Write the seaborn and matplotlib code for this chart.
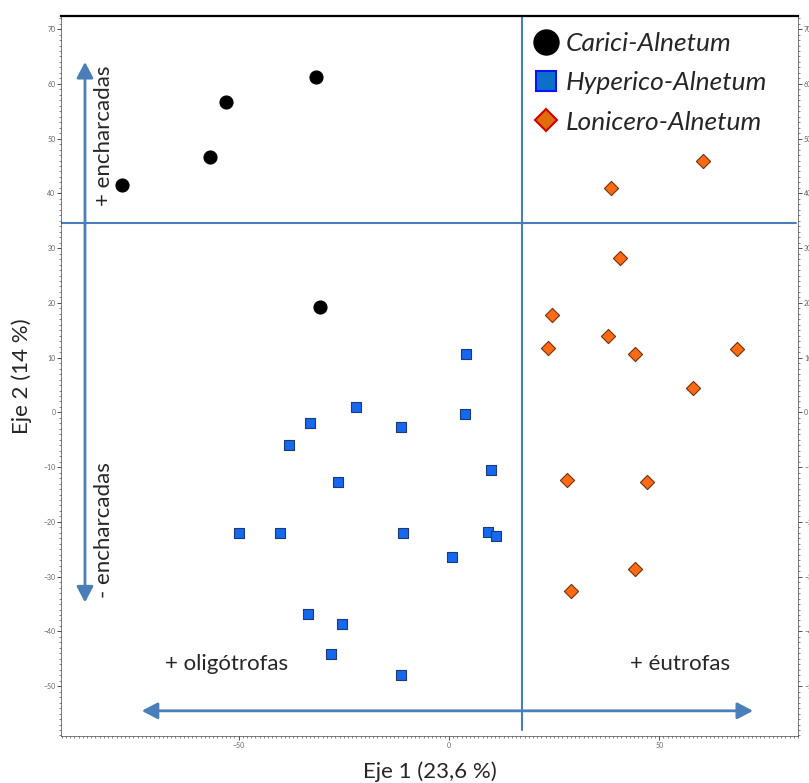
import matplotlib
matplotlib.use("Agg")
import matplotlib.pyplot as plt
from matplotlib.lines import Line2D
from matplotlib.ticker import MultipleLocator
import seaborn as sns
import pandas as pd

# ---- data ----
carici_x = [-77.8, -56.8, -53.0, -31.6, -30.6]
carici_y = [41.6, 46.6, 56.7, 61.2, 19.2]

hyper_x = [4.0, -22.1, -33.0, -11.5, 3.9, -38.0, 9.9, -26.4, -49.8, -40.2,
           -11.0, 9.3, 11.2, 0.7, -33.6, -25.4, -28.1, -11.4]
hyper_y = [10.7, 1.0, -2.0, -2.6, -0.3, -5.9, -10.6, -12.7, -22.1, -22.1,
           -22.1, -21.8, -22.5, -26.4, -36.9, -38.6, -44.2, -48.0]

lonic_x = [60.3, 38.5, 40.6, 24.6, 37.9, 23.5, 44.3, 68.5, 58.0, 28.0, 47.0, 44.3, 29.1]
lonic_y = [45.9, 41.0, 28.2, 17.7, 13.9, 11.7, 10.7, 11.5, 4.4, -12.3, -12.7, -28.6, -32.7]

groups = ["Carici-Alnetum", "Hyperico-Alnetum", "Lonicero-Alnetum"]
y_ticks = [-50, -40, -30, -20, -10, 0, 10, 20, 30, 40, 50, 60, 70]
x_ticks = [-50, 0, 50]

df = pd.DataFrame({
    "x": carici_x + hyper_x + lonic_x,
    "y": carici_y + hyper_y + lonic_y,
    "grupo": [groups[0]] * len(carici_x) + [groups[1]] * len(hyper_x) + [groups[2]] * len(lonic_x),
})

sns.set_style("white")
plt.rcParams["font.family"] = ["Lato", "DejaVu Sans"]

fig = plt.figure(figsize=(8.09, 7.83), dpi=100)
ax = fig.add_axes([0.0754, 0.060, 0.9116, 0.9196])

xmin, xmax = -92.2, 83.1
ymin, ymax = -59.1, 72.4
ax.set_xlim(xmin, xmax)
ax.set_ylim(ymin, ymax)

blue = "#4a7ebb"
# crosshair lines
ax.plot([17.3, 17.3], [ymax, -58.0], color=blue, lw=1.5, zorder=1)
ax.plot([xmin, 82.5], [34.6, 34.6], color=blue, lw=1.5, zorder=1)

# arrows
ax.annotate("", xy=(-86.5, 64.0), xytext=(-86.5, -34.7),
            arrowprops=dict(arrowstyle="<|-|>,head_length=0.95,head_width=0.5",
                            color=blue, lw=2.0, mutation_scale=10,
                            shrinkA=0, shrinkB=0), zorder=2)
ax.annotate("", xy=(72.3, -54.5), xytext=(-73.0, -54.5),
            arrowprops=dict(arrowstyle="<|-|>,head_length=0.95,head_width=0.5",
                            color=blue, lw=2.0, mutation_scale=10,
                            shrinkA=0, shrinkB=0), zorder=2)

styles = {
    groups[0]: dict(marker="o", s=88, color="black", edgecolor="black"),
    groups[1]: dict(marker="s", s=60, color="#1568f0", edgecolor="#1f3a70"),
    groups[2]: dict(marker="D", s=52, color="#ff6a12", edgecolor="#6e3010"),
}
for g in groups:
    st = styles[g]
    sns.scatterplot(data=df[df["grupo"] == g], x="x", y="y", ax=ax,
                    marker=st["marker"], s=st["s"], color=st["color"],
                    edgecolor=st["edgecolor"], linewidth=0.8, legend=False, zorder=3)

# legend
handles = [
    Line2D([], [], ls="", marker="o", ms=18, mfc="black", mec="black"),
    Line2D([], [], ls="", marker="s", ms=15, mfc="#0a70c8", mec="#1010ff", mew=1.5),
    Line2D([], [], ls="", marker="D", ms=11, mfc="#e26b0a", mec="#cc0000", mew=1.5),
]
leg = ax.legend(handles, groups, loc="upper left", bbox_to_anchor=(0.640, 0.978),
                frameon=False, prop=dict(size=19, style="italic"),
                handlelength=1.0, handletextpad=0.25, labelspacing=0.62,
                borderaxespad=0, borderpad=0)

# annotation texts
ax.text(-82.0, 50.5, "+ encharcadas", rotation=90, ha="center", va="center", fontsize=16)
ax.text(-82.0, -21.5, "- encharcadas", rotation=90, ha="center", va="center", fontsize=16)
ax.text(-52.8, -46.0, "+ oligótrofas", ha="center", va="center", fontsize=16)
ax.text(54.9, -46.0, "+ éutrofas", ha="center", va="center", fontsize=16)

# axis labels
ax.set_xlabel("Eje 1 (23,6 %)", fontsize=16, labelpad=9)
ax.set_ylabel("Eje 2 (14 %)", fontsize=16, labelpad=8)

# ticks
ax.set_xticks(x_ticks)
ax.set_yticks(y_ticks)
ax.xaxis.set_minor_locator(MultipleLocator(1))
ax.yaxis.set_minor_locator(MultipleLocator(1))
ax.tick_params(axis="both", which="major", direction="out", length=3, width=0.6,
               labelsize=5, colors="#333333", pad=1)
ax.tick_params(axis="both", which="minor", direction="out", length=1.5, width=0.5,
               colors="#555555")
ax.tick_params(axis="y", which="both", left=True, right=True, labelright=True)
ax.tick_params(axis="x", which="both", bottom=True, top=False)
for lab in ax.get_xticklabels() + ax.get_yticklabels():
    lab.set_color("#666666")
for t in ax.yaxis.get_majorticklabels():
    t.set_color("#666666")

for side in ["left", "bottom", "right"]:
    ax.spines[side].set_visible(True)
    ax.spines[side].set_color("#444444")
    ax.spines[side].set_linewidth(0.5)
ax.spines["top"].set_color("black")
ax.spines["top"].set_linewidth(1.6)

fig.savefig("out.png", dpi=100)
